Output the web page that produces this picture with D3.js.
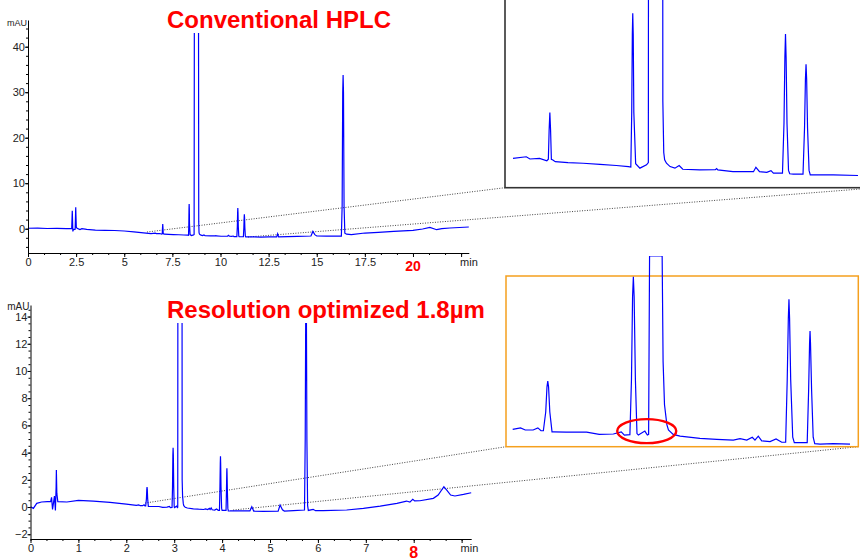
<!DOCTYPE html>
<html>
<head>
<meta charset="utf-8">
<script src="https://cdn.jsdelivr.net/npm/d3@7"></script>
<style>
  body { margin: 0; background: #fff; }
  svg { display: block; }
  text { font-family: "Liberation Sans", Arial, sans-serif; }
</style>
</head>
<body>
<svg></svg>
<script>
const width = 860, height = 560;
const svg = d3.select("svg").attr("width", width).attr("height", height);

// Conventional HPLC run: [time (min), absorbance (mAU)]
const conventionalTrace = [
  [0, 0.1], [0.5, 0.12], [1.0, 0.05], [1.5, 0.08], [2.0, 0.03], [2.2, 0.0],
  [2.27, 0.0], [2.29, 2.5], [2.30, 3.96], [2.31, 2.5], [2.33, -0.6], [2.36, -0.2],
  [2.45, -0.1], [2.47, 3.0], [2.48, 4.7], [2.49, 3.0], [2.51, 0.3], [2.55, 0.1],
  [2.7, -0.2], [2.8, 0.0], [3.05, -0.15], [3.5, -0.3], [4.0, -0.35], [4.5, -0.4],
  [5.0, -0.5], [5.5, -0.7], [6.0, -0.9], [6.39, -1.06], [6.61, -0.99], [6.67, -1.09],
  [6.83, -1.06], [6.95, -1.17], [6.975, -1.1], [6.988, 0.2], [7.0, 1.0], [7.012, 0.2],
  [7.025, -1.1], [7.05, -1.13], [7.09, -1.21], [7.3, -1.25], [7.55, -1.28], [7.83, -1.33],
  [8.1, -1.38], [8.30, -1.43], [8.34, -1.45], [8.355, 1.0], [8.365, 4.5], [8.372, 5.45],
  [8.38, 4.5], [8.39, 1.0], [8.42, -1.3], [8.49, -1.5], [8.60, -1.35], [8.63, -1.25],
  [8.645, 60], [8.75, 120], [8.855, 60], [8.87, 1.5], [8.885, -0.8], [8.90, -1.13],
  [8.93, -1.28], [8.99, -1.43], [9.07, -1.5], [9.14, -1.38], [9.2, -1.55], [9.48, -1.58],
  [9.74, -1.57], [9.76, -1.52], [9.78, -1.58], [10.03, -1.66], [10.26, -1.66], [10.37, -1.66],
  [10.41, -1.46], [10.47, -1.66], [10.59, -1.69], [10.66, -1.61], [10.70, -1.72], [10.85, -1.72],
  [10.875, 0.5], [10.89, 3.5], [10.90, 4.52], [10.91, 3.5], [10.925, 0.5], [10.95, -1.6],
  [10.97, -1.75], [11.03, -1.77], [11.19, -1.77], [11.215, 0.3], [11.23, 2.5], [11.24, 3.16],
  [11.25, 2.5], [11.265, 0.3], [11.29, -1.6], [11.31, -1.8], [11.41, -1.8], [11.69, -1.8],
  [12.1, -1.83], [12.5, -1.8], [12.92, -1.8], [12.97, -1.1], [13.02, -1.8], [13.5, -1.75],
  [14.0, -1.7], [14.7, -1.6], [14.8, -0.6], [14.9, -1.3], [15.0, -1.6], [15.5, -1.65],
  [16.28, -1.65], [16.32, 5], [16.35, 30], [16.37, 33.8], [16.39, 30], [16.42, 5],
  [16.46, -1.0], [16.55, -1.2], [16.8, -1.3], [17.5, -0.95], [18.2, -0.8], [19.0, -0.6],
  [20.0, -0.37], [20.5, -0.07], [20.88, 0.29], [21.23, -0.22], [21.5, 0.0], [21.92, 0.15],
  [22.9, 0.37]
];

// Resolution optimized 1.8 µm run: [time (min), absorbance (mAU)]
const optimizedTrace = [
  [0, 0.02], [0.06, -0.1], [0.13, 0.27], [0.23, 0.37], [0.35, 0.4], [0.42, 0.4],
  [0.44, 0.71], [0.46, -0.17], [0.48, 0.3], [0.50, 0.8], [0.52, -0.25], [0.535, 1.5],
  [0.54, 2.72], [0.55, 1.0], [0.57, 0.4], [0.76, 0.37], [1.0, 0.49], [1.31, 0.44],
  [1.66, 0.34], [2.0, 0.22], [2.21, 0.12], [2.26, 0.16], [2.29, 0.10], [2.34, 0.10],
  [2.37, 0.16], [2.39, 0.08], [2.405, 0.08], [2.42, 0.6], [2.428, 1.3], [2.433, 1.46],
  [2.438, 1.3], [2.446, 0.6], [2.46, 0.05], [2.47, 0.05], [2.55, 0.04], [2.68, 0.04],
  [2.76, -0.02], [2.85, -0.01], [2.90, 0.05], [2.92, -0.04], [2.955, -0.03], [2.965, 1.5],
  [2.972, 3.8], [2.977, 4.36], [2.982, 3.8], [2.99, 1.5], [3.0, 0.0], [3.009, -0.04],
  [3.05, 0.07], [3.066, -0.04], [3.074, -0.02], [3.08, 40], [3.12, 80], [3.16, 40],
  [3.166, 2.0], [3.175, 0.8], [3.19, 0.25], [3.2, 0.1], [3.23, -0.02], [3.274, -0.07],
  [3.40, -0.13], [3.507, -0.16], [3.612, -0.18], [3.655, -0.14], [3.698, -0.18], [3.733, -0.1],
  [3.75, -0.18], [3.771, -0.07], [3.793, -0.2], [3.846, -0.22], [3.884, -0.15], [3.92, -0.24],
  [3.945, -0.24], [3.955, 1.5], [3.962, 3.2], [3.966, 3.73], [3.97, 3.2], [3.977, 1.5],
  [3.99, -0.1], [4.0, -0.25], [4.026, -0.25], [4.068, -0.25], [4.082, -0.25], [4.091, 1.2],
  [4.097, 2.5], [4.10, 2.85], [4.103, 2.5], [4.11, 1.2], [4.12, -0.1], [4.13, -0.28],
  [4.164, -0.29], [4.248, -0.28], [4.354, -0.29], [4.58, -0.29], [4.62, 0.02], [4.66, -0.3],
  [4.86, -0.32], [5.17, -0.3], [5.21, 0.15], [5.26, -0.2], [5.3, -0.3], [5.49, -0.27],
  [5.72, -0.22], [5.735, 5], [5.745, 14], [5.752, 16], [5.76, 14], [5.77, 5],
  [5.785, 0.1], [5.80, -0.25], [5.90, -0.17], [5.95, -0.27], [6.11, -0.27], [6.60, -0.22],
  [6.95, -0.1], [7.30, 0.07], [7.65, 0.27], [7.85, 0.44], [7.92, 0.36], [7.98, 0.57],
  [8.02, 0.45], [8.13, 0.46], [8.41, 0.64], [8.51, 0.88], [8.63, 1.49], [8.69, 1.25],
  [8.77, 0.88], [8.86, 0.81], [9.04, 0.93], [9.2, 1.05]
];

// Tick labels
const topXTicks = [0, 2.5, 5, 7.5, 10, 12.5, 15, 17.5];
const topYTicks = [0, 10, 20, 30, 40];
const bottomXTicks = [0, 1, 2, 3, 4, 5, 6, 7];
const bottomYTicks = [-2, 0, 2, 4, 6, 8, 10, 12, 14];

// Zoomed windows and the points where the dotted leader lines start
const topZoomWindow = [6.39, 12.1];
const bottomZoomWindow = [2.212, 4.354];
const topLinkStarts = [[6.18, -0.73], [11.43, -1.82]];
const bottomLinkStarts = [[2.39, 0.29], [4.23, -0.22]];
const circledRegion = [3.062, 0.07];

const traceColor = "#0000ff";
const line = (x, y) => d3.line().x(d => x(d[0])).y(d => y(d[1]));

function drawPanel(o) {
  const x = d3.scaleLinear().domain(o.xDomain).range([o.left, o.right]);
  const y = d3.scaleLinear().domain(o.yDomain).range([o.bottom, o.top]);

  // inset (zoom) scales
  const xi = d3.scaleLinear().domain(o.zoom).range([o.inset.plotLeft, o.inset.plotRight]);
  const yi = d3.scaleLinear().domain(o.inset.yDomain).range(o.inset.yRange);

  // dotted leader lines from main plot to inset corners
  o.links.forEach((p, i) => {
    svg.append("line")
      .attr("x1", x(p[0])).attr("y1", y(p[1]))
      .attr("x2", o.inset.corners[i][0]).attr("y2", o.inset.corners[i][1])
      .attr("stroke", "#444").attr("stroke-width", 1)
      .attr("stroke-dasharray", "1,1.5");
  });

  // main trace (clipped at the top like the instrument printout)
  svg.append("clipPath").attr("id", o.id + "-clip")
    .append("rect").attr("x", o.left).attr("y", o.clipTop)
    .attr("width", o.right - o.left + 2).attr("height", o.bottom - o.clipTop);

  svg.append("path")
    .datum(o.trace)
    .attr("clip-path", `url(#${o.id}-clip)`)
    .attr("fill", "none").attr("stroke", traceColor).attr("stroke-width", 1.2)
    .attr("d", line(x, y));

  // axes
  const xAxis = svg.append("g").attr("transform", `translate(0,${o.bottom})`)
    .call(d3.axisBottom(x).tickValues(o.xTicks).tickSize(4).tickSizeOuter(0).tickPadding(1)
      .tickFormat(d3.format("~g")));
  svg.append("g").attr("transform", `translate(0,${o.bottom})`)
    .call(d3.axisBottom(x).tickValues(o.xMinor).tickSize(2).tickSizeOuter(0).tickFormat(""))
    .select(".domain").remove();
  const yAxis = svg.append("g").attr("transform", `translate(${o.left},0)`)
    .call(d3.axisLeft(y).tickValues(o.yTicks).tickSize(3).tickSizeOuter(0).tickPadding(0));
  svg.append("g").attr("transform", `translate(${o.left},0)`)
    .call(d3.axisLeft(y).tickValues(o.yMinor).tickSize(2).tickSizeOuter(0).tickFormat(""))
    .select(".domain").remove();

  svg.selectAll(".tick text").attr("font-size", 11).attr("fill", "#222")
    .attr("font-family", "\"Liberation Sans\", Arial, sans-serif");

  // red highlighted last tick value and unit
  svg.append("text").attr("x", x(o.redTick)).attr("y", o.bottom + o.redDy)
    .attr("text-anchor", "middle").attr("fill", "#ff0000")
    .attr("font-weight", "bold").attr("font-size", o.redSize).text(o.redTick);
  svg.append("text").attr("x", x(o.minAt) - 1).attr("y", o.bottom + 13)
    .attr("font-size", 11).attr("fill", "#222").text("min");
  svg.append("text").attr("x", o.left - 1).attr("y", o.top + o.mauDy)
    .attr("text-anchor", "end").attr("font-size", o.mauSize).attr("fill", "#222").text("mAU");

  // title
  svg.append("text").attr("x", 167).attr("y", o.titleY)
    .attr("font-size", 24).attr("font-weight", "bold").attr("fill", "#ff0000")
    .text(o.title);

  // inset box + zoomed trace
  const b = o.inset.box;
  svg.append("clipPath").attr("id", o.id + "-iclip")
    .append("rect").attr("x", b.x).attr("y", o.inset.clipTop)
    .attr("width", b.w).attr("height", b.y + b.h - o.inset.clipTop);
  svg.append("rect").attr("x", b.x).attr("y", b.y).attr("width", b.w).attr("height", b.h)
    .attr("fill", "#fff").attr("stroke", o.inset.stroke).attr("stroke-width", o.inset.strokeWidth);

  const yMax = yi.invert(o.inset.clipTop);
  const zoomed = o.trace.filter(d => d[0] >= o.zoom[0] - 0.005 && d[0] <= o.zoom[1] + 0.005)
    .map(d => [d[0], o.inset.clamp ? Math.min(d[1], yMax) : d[1]]);
  svg.append("path")
    .datum(zoomed)
    .attr("clip-path", `url(#${o.id}-iclip)`)
    .attr("fill", "none").attr("stroke", traceColor).attr("stroke-width", 1.2)
    .attr("d", line(xi, yi));

  if (o.circle) {
    svg.append("ellipse")
      .attr("cx", xi(o.circle[0])).attr("cy", yi(o.circle[1]))
      .attr("rx", 29.5).attr("ry", 12)
      .attr("fill", "none").attr("stroke", "#ff0000").attr("stroke-width", 2.4);
  }
}

drawPanel({
  id: "conv",
  trace: conventionalTrace,
  xDomain: [0, 22.9], yDomain: [-5.34, 45.87],
  left: 28, right: 468.8, top: 20, bottom: 253, clipTop: 33,
  xTicks: d3.range(0, 22.6, 2.5), yTicks: topYTicks,
  labelTicks: topXTicks,
  xMinor: d3.range(0, 22.9, 2.5 / 3), yMinor: d3.range(-4, 46, 2),
  redTick: 20, redDy: 18, redSize: 14, minAt: 22.5, mauDy: 6, mauSize: 9,
  title: "Conventional HPLC", titleY: 28,
  zoom: topZoomWindow, links: topLinkStarts,
  inset: {
    plotLeft: 513, plotRight: 858, yDomain: [-1, 5], yRange: [157, 157 - 6 * 22.3],
    box: { x: 505, y: -5, w: 372, h: 192.7 }, clipTop: -5,
    corners: [[505, 187.7], [877, 187.7]],
    stroke: "#333", strokeWidth: 1.6, clamp: false
  }
});

drawPanel({
  id: "opt",
  trace: optimizedTrace,
  xDomain: [0, 9.2], yDomain: [-2.35, 14.85],
  left: 30.5, right: 471.2, top: 305, bottom: 539, clipTop: 323,
  xTicks: d3.range(0, 9.1, 1), yTicks: bottomYTicks,
  labelTicks: bottomXTicks,
  xMinor: d3.range(0, 9.2, 1 / 3), yMinor: d3.range(-2, 14.9, 0.5),
  redTick: 8, redDy: 19, redSize: 16, minAt: 9, mauDy: 5, mauSize: 10,
  title: "Resolution optimized 1.8µm", titleY: 318,
  zoom: bottomZoomWindow, links: bottomLinkStarts, circle: circledRegion,
  inset: {
    plotLeft: 513, plotRight: 850, yDomain: [0.12, 4.12], yRange: [429.3, 429.3 - 4 * 36],
    box: { x: 506, y: 276, w: 352.3, h: 170.7 }, clipTop: 256,
    corners: [[506, 446.7], [858.3, 446.7]],
    stroke: "#f5a01e", strokeWidth: 1.5, clamp: true
  }
});

// hide major tick labels that are not printed (red values and the "min" slot)
svg.selectAll(".tick text").filter(function (d) {
  return d === 20 || d === 22.5 || d === 8 || d === 9;
}).each(function (d) {
  // y-axis 20 must stay: only drop labels belonging to x axes
  const g = this.parentNode.parentNode;
  if (d3.select(g).attr("transform").startsWith("translate(0,")) d3.select(this).remove();
});
</script>
</body>
</html>
